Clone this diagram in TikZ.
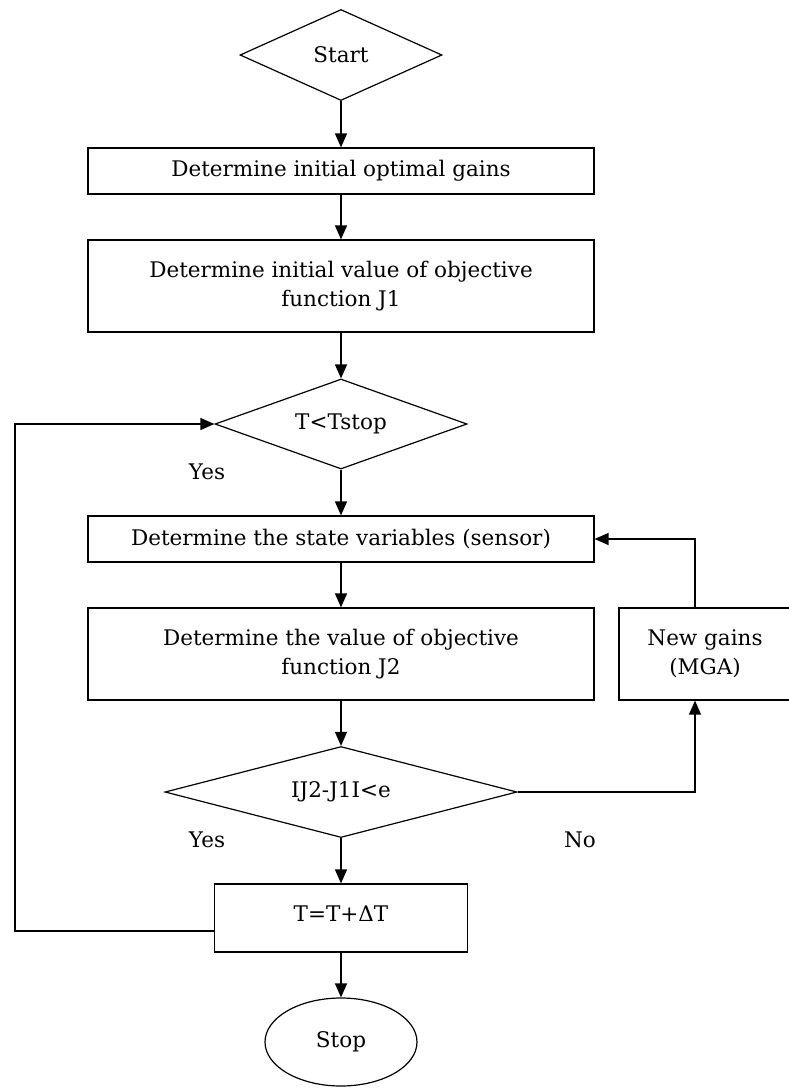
\documentclass[tikz,border=0pt]{standalone}
\usepackage{fontspec}
\setmainfont{DejaVu Serif}
\usepackage{tikz}
\usetikzlibrary{shapes}
\usetikzlibrary{arrows.meta}
\usetikzlibrary{positioning}

\tikzset{
  stepbox/.style={draw, line width=1.2pt, rectangle, inner sep=0pt, align=center},
  decide/.style={draw, line width=1.2pt, diamond, inner sep=0pt},
  arr/.style={line width=1.3pt, -{Triangle[length=14pt,width=12pt]}},
  lbl/.style={inner sep=0pt}
}

\begin{document}
\begin{tikzpicture}[x=1pt, y=-1pt, font=\fontsize{21.5}{29}\selectfont]
  \useasboundingbox[fill=white] (0,0) rectangle (788,1088);
  \node[decide, aspect=2.2, minimum width=202pt, minimum height=91pt] (start) at (341,55) {Start};
  \node[stepbox, minimum width=506pt, minimum height=46pt] (initgain) at (341,171) {Determine initial optimal gains};
  \node[stepbox, minimum width=506pt, minimum height=92pt] (initobj) at (341,286) {Determine initial value of objective\\function J1};
  \node[decide, aspect=2.8, minimum width=252pt, minimum height=90pt] (tstop) at (341,424) {T<Tstop};
  \node[stepbox, minimum width=506pt, minimum height=46pt] (state) at (341,539) {Determine the state variables (sensor)};
  \node[stepbox, minimum width=506pt, minimum height=92pt] (objval) at (341,654) {Determine the value of objective\\function J2};
  \node[stepbox, minimum width=172pt, minimum height=92pt] (newgain) at (705,654) {New gains\\(MGA)};
  \node[decide, aspect=3.87, minimum width=352pt, minimum height=91pt] (err) at (341,792) {IJ2-J1I<e};
  \node[stepbox, minimum width=253pt, minimum height=68pt] (incr) at (341,918) {\raisebox{8pt}{T=T+ΔT}};
  \node[draw, line width=1.2pt, ellipse, minimum width=152pt, minimum height=88pt, inner sep=0pt] (stop) at (341,1042) {Stop};

  \node[lbl] (yes1) at (207,472) {Yes};
  \node[lbl] (yes2) at (207,840) {Yes};
  \node[lbl] (no) at (580,840) {No};

  \coordinate (loopbot) at (15,931);
  \coordinate (looptop) at (15,424);
  \coordinate (fbx) at (695,0);

  \draw[arr] (start) -- (initgain);
  \draw[arr] (initgain) -- (initobj);
  \draw[arr] (initobj) -- (tstop);
  \draw[arr] (tstop) -- (state);
  \draw[arr] (state) -- (objval);
  \draw[arr] (objval) -- (err);
  \draw[arr] (err) -- (incr);
  \draw[arr] (incr) -- (stop);
  \draw[arr] (err.east) -| (fbx |- newgain.south);
  \draw[arr] (fbx |- newgain.north) |- (state.east);
  \draw[arr] (incr.west |- loopbot) -- (loopbot) -- (looptop) -- (tstop.west);
\end{tikzpicture}
\end{document}
